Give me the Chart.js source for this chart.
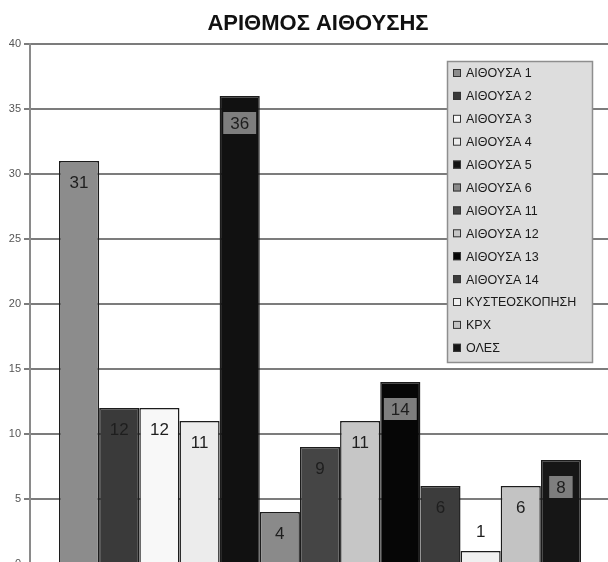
<!DOCTYPE html>
<html>
<head>
<meta charset="utf-8">
<script src="https://cdn.jsdelivr.net/npm/chart.js@4/dist/chart.umd.min.js"></script>
<style>
  html, body { margin: 0; padding: 0; background: #ffffff; overflow: hidden; }
  #wrap { position: relative; width: 640px; height: 600px; }
</style>
</head>
<body>
<div id="wrap"><canvas id="chart" width="640" height="600"></canvas></div>
<script>
// Room counts per operating room
const chartTitle = 'ΑΡΙΘΜΟΣ ΑΙΘΟΥΣΗΣ';
const categories = [''];
const seriesNames = [
  'ΑΙΘΟΥΣΑ 1', 'ΑΙΘΟΥΣΑ 2', 'ΑΙΘΟΥΣΑ 3', 'ΑΙΘΟΥΣΑ 4', 'ΑΙΘΟΥΣΑ 5',
  'ΑΙΘΟΥΣΑ 6', 'ΑΙΘΟΥΣΑ 11', 'ΑΙΘΟΥΣΑ 12', 'ΑΙΘΟΥΣΑ 13', 'ΑΙΘΟΥΣΑ 14',
  'ΚΥΣΤΕΟΣΚΟΠΗΣΗ', 'ΚΡΧ', 'ΟΛΕΣ'
];
const seriesValues = [31, 12, 12, 11, 36, 4, 9, 11, 14, 6, 1, 6, 8];
const yMin = 0, yMax = 40, yStep = 5;

// Greyscale palette, one shade per series
const palette = [
  '#8c8c8c', '#3a3a3a', '#f8f8f8', '#ececec', '#111111',
  '#8a8a8a', '#454545', '#c6c6c6', '#060606', '#3c3c3c',
  '#f0f0f0', '#c3c3c3', '#161616'
];

const FONT = '"Liberation Sans", Arial, sans-serif';

function isVeryDark(hex) {
  const v = parseInt(hex.slice(1, 3), 16);
  return v < 0x30;
}

// Title centred over the page
const titlePlugin = {
  id: 'pageTitle',
  afterDraw(chart) {
    const ctx = chart.ctx;
    ctx.save();
    ctx.font = 'bold 22px ' + FONT;
    ctx.fillStyle = '#111111';
    ctx.textAlign = 'center';
    ctx.textBaseline = 'middle';
    ctx.fillText(chartTitle, 318, 24);
    ctx.restore();
  }
};

// Value labels inside the top of each bar
const valueLabels = {
  id: 'valueLabels',
  afterDatasetsDraw(chart) {
    const ctx = chart.ctx;
    ctx.save();
    ctx.font = '17px ' + FONT;
    ctx.textAlign = 'center';
    ctx.textBaseline = 'middle';
    chart.data.datasets.forEach((ds, i) => {
      const meta = chart.getDatasetMeta(i);
      meta.data.forEach((bar, j) => {
        const v = ds.data[j];
        const txt = String(v);
        const h = bar.base - bar.y;
        const boxed = isVeryDark(ds.backgroundColor);
        let cy;
        if (boxed) cy = bar.y + 27;
        else if (h < 30) cy = bar.y - 20;
        else cy = bar.y + 21;
        if (boxed) {
          const w = ctx.measureText(txt).width + 14;
          ctx.fillStyle = '#7e7e7e';
          ctx.fillRect(bar.x - w / 2, cy - 11, w, 22);
        }
        ctx.fillStyle = '#1e1e1e';
        ctx.fillText(txt, bar.x, cy + 1);
      });
    });
    ctx.restore();
  }
};

// Boxed legend sitting inside the plot, upper right
const boxLegend = {
  id: 'boxLegend',
  afterDraw(chart) {
    const ctx = chart.ctx;
    const x0 = 447, y0 = 61, w = 145, h = 301;
    ctx.save();
    ctx.fillStyle = '#dddddd';
    ctx.fillRect(x0, y0, w, h);
    ctx.strokeStyle = '#8e8e8e';
    ctx.lineWidth = 1.5;
    ctx.strokeRect(x0 + 0.5, y0 + 0.5, w, h);
    ctx.font = '12.5px ' + FONT;
    ctx.textAlign = 'left';
    ctx.textBaseline = 'middle';
    const step = 22.9;
    chart.data.datasets.forEach((ds, i) => {
      const cy = y0 + 12 + i * step;
      ctx.fillStyle = ds.backgroundColor;
      ctx.fillRect(x0 + 6, cy - 4, 8, 8);
      ctx.strokeStyle = '#333333';
      ctx.lineWidth = 1;
      ctx.strokeRect(x0 + 6.5, cy - 3.5, 7, 7);
      ctx.fillStyle = '#1a1a1a';
      ctx.fillText(ds.label, x0 + 19, cy + 1);
    });
    ctx.restore();
  }
};

const datasets = seriesNames.map((name, i) => ({
  label: name,
  data: [seriesValues[i]],
  backgroundColor: palette[i],
  borderColor: '#1c1c1c',
  borderWidth: 1.5,
  barPercentage: 1.0,
  categoryPercentage: 0.9
}));

new Chart(document.getElementById('chart'), {
  type: 'bar',
  data: { labels: categories, datasets },
  options: {
    responsive: false,
    animation: false,
    layout: { padding: { top: 44, left: 0, right: 30, bottom: 36 } },
    plugins: {
      legend: { display: false },
      title: { display: false },
      tooltip: { enabled: false }
    },
    scales: {
      x: { display: false },
      y: {
        min: yMin,
        max: yMax,
        ticks: {
          stepSize: yStep,
          color: '#555555',
          font: { family: FONT, size: 11 },
          padding: 3
        },
        grid: {
          color: '#7c7c7c',
          lineWidth: 2,
          tickLength: 6,
          tickColor: '#7c7c7c'
        },
        border: { color: '#8a8a8a', width: 2 },
        afterFit(scale) { scale.width = 30; }
      }
    }
  },
  plugins: [titlePlugin, valueLabels, boxLegend]
});
</script>
</body>
</html>
